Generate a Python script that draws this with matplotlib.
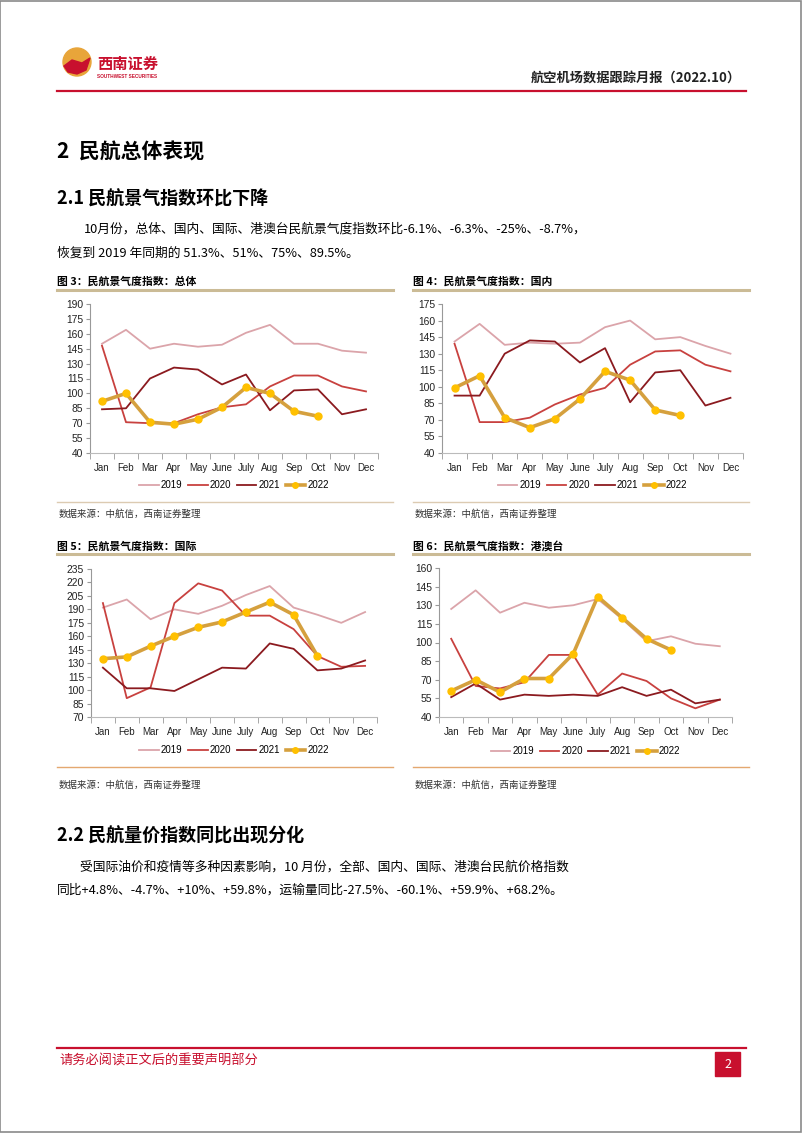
import matplotlib
matplotlib.use("Agg")
import matplotlib.pyplot as plt
from matplotlib.patches import Rectangle, Ellipse, Polygon
from matplotlib.lines import Line2D

plt.rcParams['font.family'] = ['Liberation Sans', 'Noto Sans CJK SC', 'DejaVu Sans']

W, H = 802, 1133

months = ["Jan", "Feb", "Mar", "Apr", "May", "June", "July", "Aug", "Sep", "Oct", "Nov", "Dec"]
years = ["2019", "2020", "2021", "2022"]

# 图3 总体
total_2019 = [150, 164, 145, 150, 147, 149, 161, 169, 150, 150, 143, 141]
total_2020 = [148, 71, 70, 70, 79, 86, 89, 107, 118, 118, 107, 102]
total_2021 = [84, 85, 115, 126, 124, 109, 119, 83, 103, 104, 79, 84]
total_2022 = [92, 100, 71, 69, 74, 86, 106, 100, 82, 77]

# 图4 国内
dom_2019 = [141, 157, 138, 140, 139, 140, 154, 160, 143, 145, 137, 130]
dom_2020 = [139, 68, 68, 72, 84, 93, 99, 120, 132, 133, 120, 114]
dom_2021 = [92, 92, 130, 142, 141, 122, 135, 86, 113, 115, 83, 90]
dom_2022 = [99, 110, 72, 63, 71, 89, 114, 106, 79, 74]

# 图5 国际
intl_2019 = [192, 201, 179, 190, 185, 194, 206, 216, 192, 184, 175, 187]
intl_2020 = [197, 91, 103, 197, 219, 211, 183, 183, 168, 138, 126, 127]
intl_2021 = [125, 102, 102, 99, 112, 125, 124, 152, 146, 122, 124, 133]
intl_2022 = [135, 137, 149, 160, 170, 176, 187, 198, 184, 138]

# 图6 港澳台
hmt_2019 = [127, 142, 124, 132, 128, 130, 135, 119, 101, 105, 99, 97]
hmt_2020 = [103, 65, 63, 68, 90, 90, 58, 75, 69, 55, 47, 54]
hmt_2021 = [56, 67, 54, 58, 57, 58, 57, 64, 57, 62, 51, 54]
hmt_2022 = [61, 70, 60, 71, 71, 91, 137, 120, 103, 94]

C2019 = "#dba4aa"
C2020 = "#c8413f"
C2021 = "#8b1a1f"
C2022 = "#d5a03e"
CMARK = "#ffc000"
RED = "#c8102e"

fig = plt.figure(figsize=(W / 100, H / 100), dpi=100)


def P(x, y):
    return x / W, 1 - y / H


def text(x, y, s, **kw):
    fx, fy = P(x, y)
    fig.text(fx, fy, s, **kw)


def hline(x0, x1, y, color, lw):
    fig.add_artist(Line2D([x0 / W, x1 / W], [1 - y / H, 1 - y / H], color=color, lw=lw,
                          transform=fig.transFigure))


CJK = ['Noto Sans CJK SC', 'Liberation Sans', 'DejaVu Sans']

# page border
fig.add_artist(Rectangle((0.0006, 0.0006), 0.9985, 0.9985, transform=fig.transFigure,
                         fill=False, edgecolor="#8a8a8a", lw=1.2))

# header logo
fig.add_artist(Ellipse(P(77, 62), 28 / W, 28 / H, transform=fig.transFigure,
                       color="#e8a53a", zorder=2))
fig.add_artist(Polygon([P(64, 66), P(72, 60), P(82, 63), P(90, 58), P(86, 70), P(77, 74), P(68, 72)],
                       closed=True, transform=fig.transFigure, color="#c8102e", zorder=3))
text(97, 64, "西南证券", fontsize=11, fontweight="bold", color=RED, family=CJK, va="center")
text(97, 77, "SOUTHWEST SECURITIES", fontsize=3.4, color=RED, va="center", fontweight="bold")
text(741, 78, "航空机场数据跟踪月报（2022.10）", fontsize=9.5, fontweight="bold", family=CJK,
     ha="right", va="center", color="#222222")
hline(57, 746, 91, RED, 1.6)

# section titles
text(57, 152, "2  民航总体表现", fontsize=15, fontweight="bold", family=CJK, va="center")
text(57, 199, "2.1 民航景气指数环比下降", fontsize=13, fontweight="bold", family=CJK, va="center")
text(84, 229, "10月份，总体、国内、国际、港澳台民航景气度指数环比-6.1%、-6.3%、-25%、-8.7%，",
     fontsize=9.2, family=CJK, va="center")
text(57, 253, "恢复到 2019 年同期的 51.3%、51%、75%、89.5%。", fontsize=9.2, family=CJK, va="center")

text(57, 836, "2.2 民航量价指数同比出现分化", fontsize=13, fontweight="bold", family=CJK, va="center")
text(80, 867, "受国际油价和疫情等多种因素影响，10 月份，全部、国内、国际、港澳台民航价格指数",
     fontsize=9.2, family=CJK, va="center")
text(57, 890, "同比+4.8%、-4.7%、+10%、+59.8%，运输量同比-27.5%、-60.1%、+59.9%、+68.2%。",
     fontsize=9.2, family=CJK, va="center")

# footer
hline(57, 746, 1048, RED, 1.6)
text(59, 1061, "请务必阅读正文后的重要声明部分", fontsize=9.5, family=CJK, color=RED, va="center")
fig.add_artist(Rectangle(P(715, 1076), 25 / W, 24 / H, transform=fig.transFigure, color=RED))
text(727.5, 1064, "2", fontsize=9, color="white", ha="center", va="center", family=CJK)


def chart(left, right, top, bottom, ylo, yhi, d2019, d2020, d2021, d2022,
          title, title_x, title_y, sep_y, src_y, bot_y, bot_color, leg_y):
    text(title_x, title_y, title, fontsize=7.8, fontweight="bold", family=CJK, va="center")
    hline(title_x, title_x + 336, sep_y, "#cbbb96", 2.2)
    text(title_x + 2, src_y, "数据来源：中航信，西南证券整理", fontsize=6.8, family=CJK,
         style="italic", va="center", color="#333333")
    hline(title_x, title_x + 336, bot_y, bot_color, 1.0)

    ax = fig.add_axes([left / W, 1 - bottom / H, (right - left) / W, (bottom - top) / H])
    x = list(range(12))
    ax.plot(x, d2019, color=C2019, lw=1.3, label="2019")
    ax.plot(x, d2020, color=C2020, lw=1.3, label="2020")
    ax.plot(x, d2021, color=C2021, lw=1.3, label="2021")
    ax.plot(list(range(len(d2022))), d2022, color=C2022, lw=2.6, marker="o", ms=5,
            mfc=CMARK, mec=CMARK, label="2022")
    ax.set_xlim(-0.5, 11.5)
    ax.set_ylim(ylo, yhi)
    ax.set_yticks(list(range(ylo, yhi + 1, 15)))
    ax.set_xticks(x)
    ax.set_xticklabels(months)
    ax.set_xticks([i + 0.5 for i in range(-1, 12)], minor=True)
    ax.tick_params(axis="x", which="major", length=0, labelsize=7.0, pad=7, colors="#222222")
    ax.tick_params(axis="x", which="minor", length=4, color="#999999", direction="out")
    ax.tick_params(axis="y", length=3, labelsize=7.4, color="#999999", labelcolor="#222222", pad=2)
    for s in ("top", "right"):
        ax.spines[s].set_visible(False)
    ax.spines["left"].set_color("#999999")
    ax.spines["bottom"].set_color("#bbbbbb")
    ax.patch.set_alpha(0)
    cx = (left + right) / 2
    ax.legend(loc="center", bbox_to_anchor=((cx - left) / (right - left),
                                            1 - (leg_y - top) / (bottom - top)),
              ncol=4, frameon=False, fontsize=7.0, handlelength=2.0, columnspacing=0.6,
              handletextpad=0.2, markerscale=0.8)
    return ax


chart(90, 378, 304, 453, 40, 190, total_2019, total_2020, total_2021, total_2022,
      "图 3：民航景气度指数：总体", 57, 281, 290, 514, 502, "#dccbb2", 485)
chart(442, 743, 304, 453, 40, 175, dom_2019, dom_2020, dom_2021, dom_2022,
      "图 4：民航景气度指数：国内", 413, 281, 290, 514, 502, "#dccbb2", 485)
chart(91, 377, 569, 717, 70, 235, intl_2019, intl_2020, intl_2021, intl_2022,
      "图 5：民航景气度指数：国际", 57, 546, 554, 785, 767, "#e4a870", 750)
chart(439, 732, 568, 717, 40, 160, hmt_2019, hmt_2020, hmt_2021, hmt_2022,
      "图 6：民航景气度指数：港澳台", 413, 546, 554, 785, 767, "#e4a870", 751)

fig.savefig("out.png", dpi=100)
